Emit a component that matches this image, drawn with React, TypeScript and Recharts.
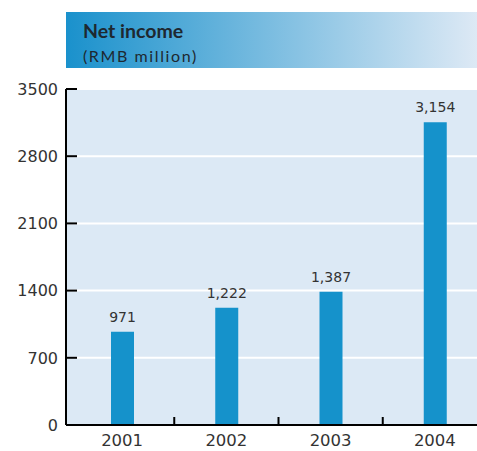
import {Bar, BarChart, CartesianGrid, LabelList, XAxis, YAxis} from "recharts";

const years = ["2001", "2002", "2003", "2004"];
const netIncome = [971, 1222, 1387, 3154];
const yTicks = [0, 700, 1400, 2100, 2800, 3500];

const data = years.map((year, i) => ({year, value: netIncome[i]}));

// layout
const AXIS_X = 66;
const PLOT_TOP = 89;
const PLOT_BOTTOM = 425;
const CHART_W = 487;
const CHART_H = 451;
const X_PAD = 4;
const HALF_BAND = (CHART_W - AXIS_X - X_PAD) / years.length / 2;

const TEXT = "#333333";
const FONT = "'DejaVu Sans', sans-serif";

function YTick(props: any) {
    const {y, payload} = props;
    return <g>
        <line x1={AXIS_X} x2={AXIS_X + 11} y1={y} y2={y} stroke="#000" strokeWidth={2}/>
        <text x={58} y={y} dy="0.36em" textAnchor="end" fontSize={16} fill={TEXT} fontFamily={FONT}>
            {payload.value}
        </text>
    </g>;
}

function XTick(props: any) {
    const {x, payload, index} = props;
    return <g>
        {index < years.length - 1 &&
            <line x1={x + HALF_BAND} x2={x + HALF_BAND} y1={PLOT_BOTTOM - 8} y2={PLOT_BOTTOM}
                  stroke="#000" strokeWidth={2}/>}
        <text x={x} y={PLOT_BOTTOM + 21} textAnchor="middle" fontSize={16.5} fill={TEXT} fontFamily={FONT}>
            {payload.value}
        </text>
    </g>;
}

export default function App() {
    return <div style={{position: "absolute", left: 0, top: 0, width: 477, height: 451, overflow: "hidden", background: "#fff"}}>
        <div style={{
            position: "absolute", left: AXIS_X, top: 12, width: 411, height: 56,
            background: "linear-gradient(to right, #1a91cc, #dde9f5)",
        }}>
            <span style={{
                position: "absolute", left: 17, top: 9, fontFamily: "Lato, sans-serif", fontWeight: 700,
                fontSize: 19.5, lineHeight: "19px", color: "#1e2830", whiteSpace: "nowrap",
            }}>Net income</span>
            <span style={{
                position: "absolute", left: 17, top: 36, fontFamily: "Lato, sans-serif",
                fontSize: 16, lineHeight: "15px", letterSpacing: 1.6, color: "#1e2830", whiteSpace: "nowrap",
            }}>(RMB million)</span>
        </div>
        <div style={{position: "absolute", left: 0, top: 0}}>
            <BarChart width={CHART_W} height={CHART_H} data={data}
                      margin={{top: PLOT_TOP, right: 0, bottom: 0, left: 0}}>
                <CartesianGrid vertical={false} stroke="#fff" strokeWidth={2} fill="#dce9f5" fillOpacity={1}/>
                <XAxis dataKey="year" height={CHART_H - PLOT_BOTTOM} padding={{left: X_PAD, right: 0}}
                       axisLine={{stroke: "#000", strokeWidth: 2}} tickLine={false} tick={<XTick/>} interval={0}/>
                <YAxis width={AXIS_X} domain={[0, 3500]} ticks={yTicks} interval={0}
                       axisLine={{stroke: "#000", strokeWidth: 2}} tickLine={false} tick={<YTick/>}/>
                <Bar dataKey="value" fill="#1592cb" barSize={23} isAnimationActive={false}>
                    <LabelList dataKey="value" position="top" offset={10} fontSize={14} fill={TEXT}
                               fontFamily={FONT} formatter={(v: any) => Number(v).toLocaleString("en-US")}/>
                </Bar>
            </BarChart>
        </div>
    </div>;
}
